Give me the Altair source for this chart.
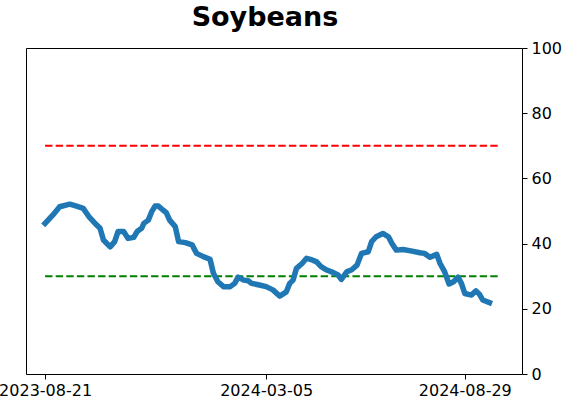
import altair as alt
import pandas as pd

dates = [
    "2023-08-21", "2023-08-28", "2023-09-03", "2023-09-12", "2023-09-18", "2023-09-24",
    "2023-09-29", "2023-10-06", "2023-10-09", "2023-10-12", "2023-10-18", "2023-10-22",
    "2023-10-25", "2023-10-30", "2023-11-03", "2023-11-08", "2023-11-11", "2023-11-15",
    "2023-11-17", "2023-11-21", "2023-11-24", "2023-11-27", "2023-11-30", "2023-12-04",
    "2023-12-07", "2023-12-10", "2023-12-15", "2023-12-18", "2023-12-24", "2023-12-30",
    "2024-01-03", "2024-01-09", "2024-01-15", "2024-01-18", "2024-01-22", "2024-01-27",
    "2024-02-02", "2024-02-06", "2024-02-09", "2024-02-14", "2024-02-18", "2024-02-21",
    "2024-02-28", "2024-03-05", "2024-03-11", "2024-03-17", "2024-03-23", "2024-03-26",
    "2024-03-29", "2024-04-01", "2024-04-06", "2024-04-10", "2024-04-15", "2024-04-19",
    "2024-04-23", "2024-04-28", "2024-05-04", "2024-05-08", "2024-05-11", "2024-05-16",
    "2024-05-20", "2024-05-25", "2024-05-29", "2024-06-04", "2024-06-07", "2024-06-11",
    "2024-06-17", "2024-06-22", "2024-06-25", "2024-06-29", "2024-07-05", "2024-07-13",
    "2024-07-20", "2024-07-24", "2024-07-29", "2024-08-04", "2024-08-07", "2024-08-11",
    "2024-08-15", "2024-08-19", "2024-08-23", "2024-08-26", "2024-08-29", "2024-09-04",
    "2024-09-08", "2024-09-11", "2024-09-14", "2024-09-20",
]
values = [
    46.2, 48.8, 51.3, 52.1, 51.5, 50.8,
    48.3, 45.7, 44.7, 41.1, 39.0, 40.6,
    43.7, 43.7, 41.6, 41.9, 43.7, 44.7,
    46.2, 47.2, 49.8, 51.5, 51.5, 50.3,
    49.5, 47.2, 45.2, 40.6, 40.3, 39.6,
    37.0, 36.0, 35.2, 30.9, 28.3, 26.8,
    26.8, 27.8, 29.7, 28.8, 28.6, 27.8,
    27.3, 26.8, 25.8, 23.9, 25.2, 27.8,
    28.8, 32.4, 33.9, 35.5, 35.0, 34.4,
    32.9, 31.9, 31.1, 30.4, 29.0, 31.4,
    31.9, 33.4, 37.0, 37.5, 40.6, 42.1,
    43.1, 42.1, 40.1, 38.0, 38.2, 37.7,
    37.2, 37.0, 35.8, 36.7, 33.9, 31.4,
    27.6, 28.3, 29.7, 27.8, 24.7, 24.2,
    25.5, 24.5, 22.7, 21.9,
]

level_values = [70, 30]
level_colors = ["#ff0000", "#008000"]
level_start = "2023-08-21"
level_end = "2024-09-29"

tick_dates = [(2023, 8, 21), (2024, 3, 5), (2024, 8, 29)]
y_ticks = [0, 20, 40, 60, 80, 100]

df = pd.DataFrame({"date": dates, "value": values})
levels = pd.DataFrame({
    "start": [level_start] * len(level_values),
    "end": [level_end] * len(level_values),
    "level": level_values,
    "color": level_colors,
})

FONT = "DejaVu Sans"

xscale = alt.Scale(
    type="utc",
    domain=[alt.DateTime(year=2023, month=8, date=4, utc=True),
            alt.DateTime(year=2024, month=10, date=19, utc=True)],
)
yscale = alt.Scale(domain=[0, 100], nice=False, zero=False)

xaxis = alt.Axis(
    values=[alt.DateTime(year=y, month=m, date=d, utc=True) for (y, m, d) in tick_dates],
    labelExpr="utcFormat(datum.value, '%Y-%m-%d')", title=None, grid=False,
    labelFont=FONT, labelFontSize=16, labelColor="black", labelFontWeight="normal",
    tickColor="black", tickSize=5, domainColor="black", labelPadding=3,
    labelOverlap=False, labelFlush=False,
)
yaxis = alt.Axis(
    orient="right", values=y_ticks, title=None, grid=False,
    labelFont=FONT, labelFontSize=16, labelColor="black", labelFontWeight="normal",
    tickColor="black", tickSize=5, domainColor="black", labelPadding=4,
)
xaxis_top = alt.Axis(orient="top", labels=False, ticks=False, grid=False,
                     title=None, domainColor="black")
yaxis_left = alt.Axis(orient="left", labels=False, ticks=False, grid=False,
                      title=None, domainColor="black")

frame = alt.Chart(df).mark_point(opacity=0).encode(
    x=alt.X("date:T", scale=xscale, axis=xaxis_top),
    y=alt.Y("value:Q", scale=yscale, axis=yaxis_left),
)

line = alt.Chart(df).mark_line(
    color="#1f77b4", strokeWidth=5.5, strokeJoin="round", strokeCap="square"
).encode(
    x=alt.X("date:T", scale=xscale, axis=xaxis),
    y=alt.Y("value:Q", scale=yscale, axis=yaxis),
)

rules = alt.Chart(levels).mark_rule(strokeWidth=2, strokeDash=[7.4, 3.2]).encode(
    x=alt.X("start:T", scale=xscale, axis=None),
    x2="end:T",
    y=alt.Y("level:Q", scale=yscale, axis=None),
    color=alt.Color("color:N", scale=None),
)

chart = alt.layer(frame, rules, line).resolve_axis(
    x="independent", y="independent"
).properties(
    width=496,
    height=326,
    title=alt.Title("Soybeans", font=FONT, fontSize=27, fontWeight="bold",
                    color="black", anchor="middle", dx=-9, offset=8),
    autosize=alt.AutoSizeParams(type="none"),
    padding={"left": 26, "top": 48, "right": 40, "bottom": 28},
).configure_view(
    stroke=None
).configure(background="white")

chart.save("out.html", embed_options={"renderer": "svg", "actions": False})
